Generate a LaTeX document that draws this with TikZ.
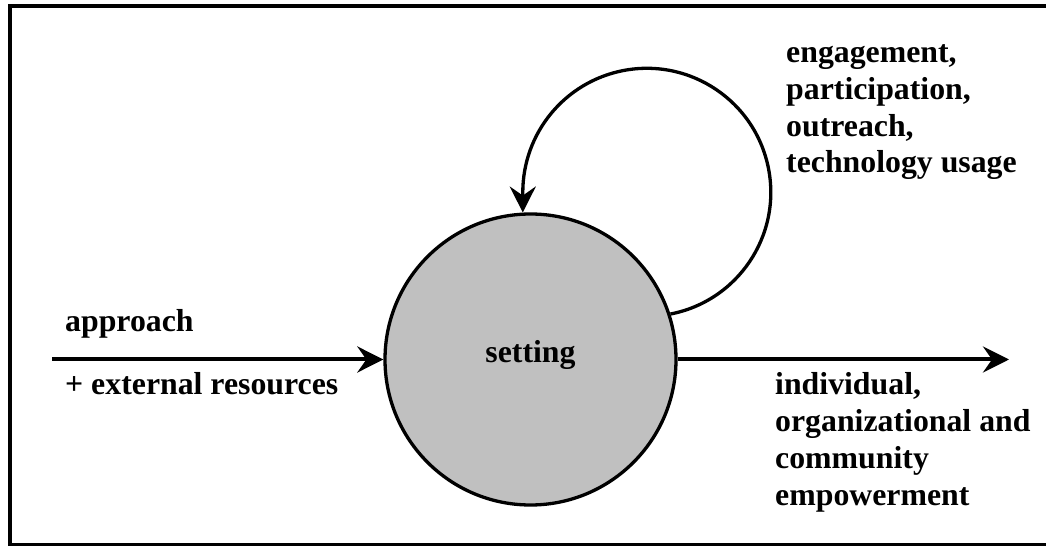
\documentclass[tikz,border=0pt]{standalone}
\usepackage{fontspec}
\setmainfont{Liberation Serif}
\usetikzlibrary{arrows.meta}
\definecolor{hubgray}{RGB}{192,192,192}

\begin{document}
\begin{tikzpicture}[x=1pt, y=1pt, >={Stealth[length=26pt, width=26pt, inset=9pt]},
	every node/.style={font=\bfseries\fontsize{31.8}{36.7}\selectfont, inner sep=0pt},
	txt/.style={anchor=base west, align=left},
	hub/.style={circle, draw, line width=3.3pt, fill=hubgray, minimum size=291pt, text height=12pt, text depth=5pt}]
	\useasboundingbox (0,0) rectangle (1046,546);
	\draw[line width=3.8pt] (1050,1.5) -- (10,1.5) -- (10,540.3) -- (1050,540.3);

	\node[hub] (S) at (530.5,186.5) {setting};
	\coordinate (in) at (52,186.5);
	\coordinate (out) at (1009,186.5);

	\draw[->, line width=4pt] (in) -- (S.west);
	\draw[->, line width=4pt] (S.east) -- (out);
	\draw[->, line width=3.3pt] (S.18) arc[start angle=-79, end angle=180, radius=124pt] -- (S.93);

	\node[txt] (A) at (65,214) {approach};
	\node[txt] (R) at (65,151) {+ external resources};
	\node[txt] (L) at (786,373) {engagement,\\ participation,\\ outreach,\\ technology usage};
	\node[txt] (E) at (775,41) {individual,\\ organizational and\\ community\\ empowerment};
\end{tikzpicture}
\end{document}
